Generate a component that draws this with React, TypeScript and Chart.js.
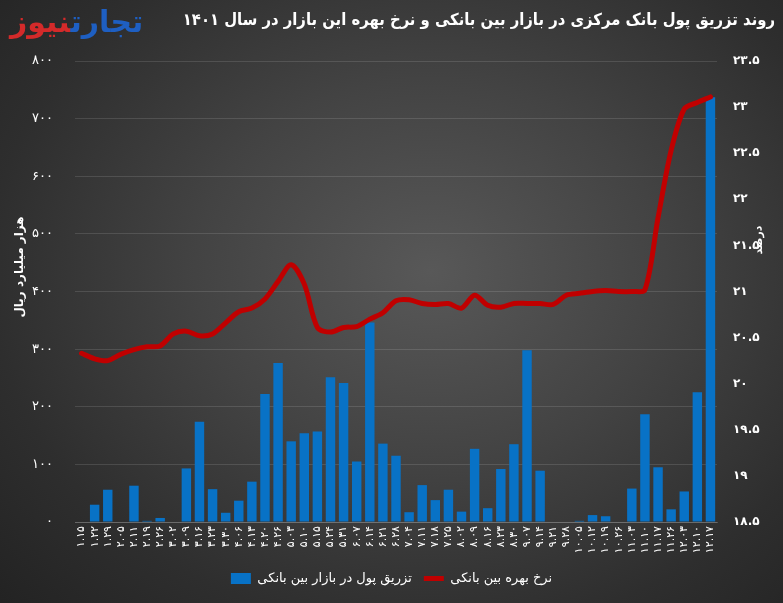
import React, { useEffect, useRef } from 'react';
import { Chart, registerables } from 'chart.js';

Chart.register(...registerables);

const categories = [
  '۱.۱۵', '۱.۲۲', '۱.۲۹', '۲.۰۵', '۲.۱۱', '۲.۱۹', '۲.۲۶', '۳.۰۲', '۳.۰۹', '۳.۱۶',
  '۳.۲۳', '۳.۳۰', '۴.۰۶', '۴.۱۳', '۴.۲۰', '۴.۲۶', '۵.۰۳', '۵.۱۰', '۵.۱۵', '۵.۲۴',
  '۵.۳۱', '۶.۰۷', '۶.۱۴', '۶.۲۱', '۶.۲۸', '۷.۰۴', '۷.۱۱', '۷.۱۸', '۷.۲۵', '۸.۰۲',
  '۸.۰۹', '۸.۱۶', '۸.۲۳', '۸.۳۰', '۹.۰۷', '۹.۱۴', '۹.۲۱', '۹.۲۸', '۱۰.۰۵', '۱۰.۱۲',
  '۱۰.۱۹', '۱۰.۲۶', '۱۱.۰۳', '۱۱.۱۰', '۱۱.۱۷', '۱۱.۲۶', '۱۲.۰۳', '۱۲.۱۰', '۱۲.۱۷',
];

// تزریق پول در بازار بین بانکی (هزار میلیارد ریال)
const injection = [
  0, 30, 56, 0, 63, 2, 7, 0, 93, 174,
  57, 16, 37, 70, 222, 276, 140, 154, 157, 251,
  241, 105, 346, 136, 115, 17, 64, 38, 56, 18,
  127, 24, 92, 135, 298, 89, 0, 0, 2, 12,
  10, 0, 58, 187, 95, 22, 53, 225, 737,
];

// نرخ بهره بین بانکی (درصد)
const rate = [
  20.33, 20.27, 20.25, 20.32, 20.37, 20.4, 20.41, 20.54, 20.57, 20.52,
  20.54, 20.66, 20.78, 20.82, 20.92, 21.11, 21.29, 21.08, 20.61, 20.56,
  20.61, 20.62, 20.7, 20.77, 20.9, 20.91, 20.87, 20.86, 20.87, 20.82,
  20.96, 20.85, 20.83, 20.87, 20.87, 20.87, 20.86, 20.96, 20.98, 21.0,
  21.01, 21.0, 21.0, 21.02, 21.8, 22.53, 22.98, 23.05, 23.11,
];

const leftMin = 0;
const leftMax = 800;
const leftStep = 100;
const rightMin = 18.5;
const rightMax = 23.5;
const rightStep = 0.5;

const titleText = 'روند تزریق پول بانک مرکزی در بازار بین بانکی و نرخ بهره این بازار در سال ۱۴۰۱';
const barLabel = 'تزریق پول در بازار بین بانکی';
const lineLabel = 'نرخ بهره بین بانکی';
const leftAxisTitle = 'هزار میلیارد ریال';
const rightAxisTitle = 'درصد';

const FONT = '"DejaVu Sans", sans-serif';
const FONT_C = '"DejaVu Sans Condensed", "DejaVu Sans", sans-serif';
const faDigits = '۰۱۲۳۴۵۶۷۸۹';
const toFa = (v: number | string) => String(v).replace(/\d/g, (d) => faDigits[+d]);

const axisTitlesPlugin = {
  id: 'axisTitlesPlugin',
  afterDraw(chart: any) {
    const ctx = chart.ctx;
    ctx.save();
    ctx.fillStyle = '#ffffff';
    ctx.font = `bold 12px ${FONT}`;
    ctx.textAlign = 'center';
    ctx.textBaseline = 'middle';
    ctx.translate(20, 267);
    ctx.rotate(-Math.PI / 2);
    ctx.fillText(leftAxisTitle, 0, 0);
    ctx.restore();

    ctx.save();
    ctx.fillStyle = '#ffffff';
    ctx.font = `bold 11px ${FONT}`;
    ctx.textAlign = 'center';
    ctx.textBaseline = 'middle';
    ctx.translate(759, 240);
    ctx.rotate(-Math.PI / 2);
    ctx.fillText(rightAxisTitle, 0, 0);
    ctx.restore();
  },
};

export default function App() {
  const canvasRef = useRef<HTMLCanvasElement | null>(null);

  useEffect(() => {
    const canvas = canvasRef.current;
    if (!canvas) return;
    const chart = new Chart(canvas, {
      type: 'bar',
      data: {
        labels: categories,
        datasets: [
          {
            type: 'bar',
            label: barLabel,
            data: injection,
            backgroundColor: '#0872C6',
            borderWidth: 0,
            yAxisID: 'y',
            order: 2,
            pointStyle: 'rect',
          } as any,
          {
            type: 'line',
            label: lineLabel,
            data: rate,
            borderColor: '#C00000',
            backgroundColor: '#C00000',
            borderWidth: 5,
            pointRadius: 0,
            tension: 0.3,
            borderCapStyle: 'round',
            borderJoinStyle: 'round',
            yAxisID: 'y1',
            order: 1,
            pointStyle: 'line',
          } as any,
        ],
      },
      options: {
        animation: false,
        responsive: false,
        layout: { padding: { top: 61, left: 0, right: 0, bottom: 8 } },
        plugins: {
          legend: {
            display: true,
            position: 'bottom',
            labels: {
              color: '#ffffff',
              font: { family: FONT, size: 13 },
              usePointStyle: true,
              pointStyleWidth: 20,
              boxWidth: 20,
              boxHeight: 11,
              padding: 12,
              sort: (a: any, b: any) => a.datasetIndex - b.datasetIndex,
            },
          },
          tooltip: { enabled: false },
        },
        scales: {
          x: {
            afterFit: (scale: any) => {
              scale.height = 38;
            },
            grid: { display: false, drawTicks: false },
            border: { display: true, color: 'rgba(255,255,255,0.18)' },
            ticks: {
              color: '#ffffff',
              font: { family: FONT, size: 11 },
              minRotation: 90,
              maxRotation: 90,
              autoSkip: false,
              padding: 4,
            },
          },
          y: {
            position: 'left',
            min: leftMin,
            max: leftMax,
            afterFit: (scale: any) => {
              scale.width = 75;
            },
            grid: { color: 'rgba(255,255,255,0.12)', drawTicks: false },
            border: { display: false },
            ticks: {
              stepSize: leftStep,
              color: '#ffffff',
              font: { family: FONT, size: 13 },
              padding: 22,
              callback: (v: any) => toFa(v),
            },
          },
          y1: {
            position: 'right',
            min: rightMin,
            max: rightMax,
            afterFit: (scale: any) => {
              scale.width = 66;
            },
            grid: { display: false, drawTicks: false },
            border: { display: false },
            ticks: {
              stepSize: rightStep,
              color: '#ffffff',
              font: { family: FONT, size: 12, weight: 'bold' },
              padding: 16,
              callback: (v: any) => toFa(Math.round(v * 10) / 10),
            },
          },
        },
      },
      plugins: [axisTitlesPlugin],
    } as any);
    return () => chart.destroy();
  }, []);

  return (
    <div
      style={{
        position: 'absolute',
        left: 0,
        top: 0,
        width: 783,
        height: 603,
        overflow: 'hidden',
        background:
          'radial-gradient(ellipse 75% 80% at 55% 45%, #585858 0%, #434343 40%, #2e2e2e 75%, #232323 100%)',
      }}
    >
      <canvas ref={canvasRef} width={783} height={603} style={{ display: 'block' }} />
      <div
        style={{
          position: 'absolute',
          top: 0,
          left: 10,
          direction: 'rtl',
          fontFamily: FONT,
          fontWeight: 'bold',
          fontSize: 30,
          lineHeight: '44px',
          whiteSpace: 'nowrap',
          letterSpacing: -1,
        }}
      >
        <span style={{ color: '#1e5fc2' }}>تجارت</span>
        <span style={{ color: '#d42a2a' }}>نیوز</span>
      </div>
      <div
        style={{
          position: 'absolute',
          top: 10,
          right: 8,
          direction: 'rtl',
          color: '#ffffff',
          fontFamily: FONT_C,
          fontWeight: 'bold',
          fontSize: 16.5,
          whiteSpace: 'nowrap',
        }}
      >
        {titleText}
      </div>
    </div>
  );
}
